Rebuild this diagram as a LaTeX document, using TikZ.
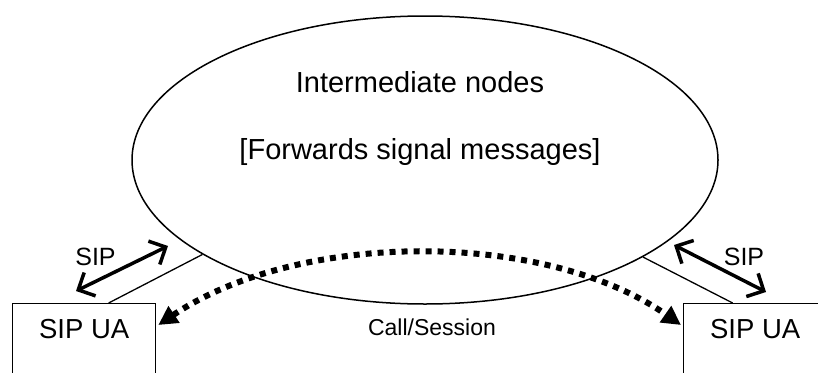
\documentclass[tikz,border=0pt]{standalone}
\usepackage{fontspec}
\setmainfont{Liberation Sans}
\usetikzlibrary{shapes.geometric, arrows.meta}

\begin{document}
\begin{tikzpicture}[x=1pt, y=-1pt,
	thin wire/.style={line width=1.3pt},
	sip arrow/.style={line width=3.5pt, {Straight Barb[length=13pt, width=26pt]}-{Straight Barb[length=13pt, width=26pt]}},
	session arrow/.style={line width=6pt, dash pattern=on 6pt off 6pt, {Triangle[length=19pt, width=19pt]}-{Triangle[length=19pt, width=19pt]}},
	ua box/.style={draw, line width=1.3pt, rectangle, minimum width=143pt, minimum height=120pt, anchor=north west, inner sep=0pt},
	big text/.style={font=\fontsize{29}{34}\selectfont, anchor=base},
	ua text/.style={font=\fontsize{27.5}{32}\selectfont, anchor=base},
	sip text/.style={font=\fontsize{25}{30}\selectfont, anchor=base}]
	\useasboundingbox (0, 0) rectangle (818, 372);
	% Cloud of intermediate nodes:
	\node[draw, ellipse, line width=1.5pt, minimum width=586pt, minimum height=288pt, inner sep=0pt] (inter) at (425, 160){};
	\node[big text] (title) at (420, 92){Intermediate nodes};
	\node[big text] (role) at (420, 159){[Forwards signal messages]};
	% User agents:
	\node[ua box] (uaL) at (12, 303){};
	\node[ua box] (uaR) at (683, 303){};
	\node[ua text] (uaLtext) at ([yshift=-35pt]uaL.north){SIP UA};
	\node[ua text] (uaRtext) at ([yshift=-35pt]uaR.north){SIP UA};
	\draw[thin wire] ([xshift=24.5pt]uaL.north) -- (inter.203);
	\draw[thin wire] ([xshift=-22.5pt]uaR.north) -- (inter.-24);
	% SIP signalling:
	\coordinate (sipLa) at (76, 291);
	\coordinate (sipLb) at (168, 246);
	\coordinate (sipRa) at (674, 245);
	\coordinate (sipRb) at (766, 292);
	\draw[sip arrow] (sipLa) -- (sipLb);
	\draw[sip arrow] (sipRa) -- (sipRb);
	\node[sip text] (sipLtext) at (95.5, 265){SIP};
	\node[sip text] (sipRtext) at (744, 265){SIP};
	% End to end session:
	\draw[session arrow] ([xshift=2pt, yshift=-22pt]uaL.north east) .. controls (300, 230) and (545, 230) .. ([xshift=-2pt, yshift=-22pt]uaR.north west);
	\node[font=\fontsize{23}{28}\selectfont, anchor=base] (call) at (432, 335){Call/Session};
\end{tikzpicture}
\end{document}
